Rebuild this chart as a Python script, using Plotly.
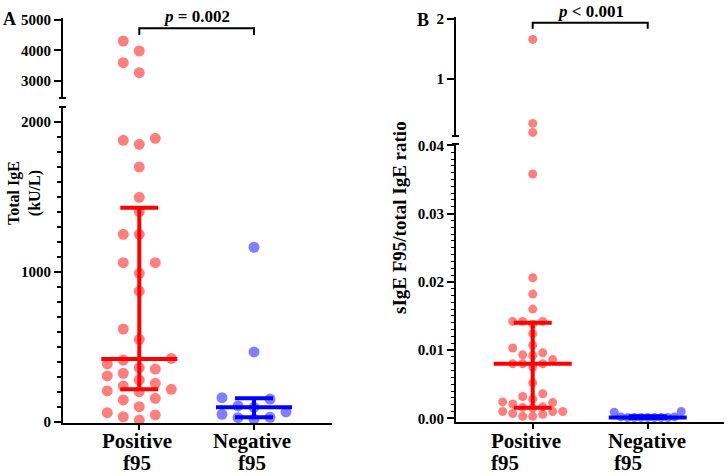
import numpy as np
import plotly.graph_objects as go

W, H = 727, 476

# ---------------- data ----------------
categories = ["Positive", "Negative"]
category_suffix = "f95"

total_ige_positive = [4307, 3977, 3591, 3261, 1889, 1876, 1849, 1698, 1496, 1400,
                      1249, 1249, 1060, 1060, 989, 870, 618, 549, 422, 411,
                      385, 360, 351, 323, 305, 278, 256, 238, 216, 205,
                      200, 156, 145, 100, 60, 45, 33, 11]
total_ige_negative = [1163, 465, 160, 151, 105, 96, 65, 49, 29, 27, 16]
total_ige_median = [418, 96]
total_ige_q1 = [216, 29]
total_ige_q3 = [1427, 156]

ratio_positive = [1.66, 0.26, 0.11, 0.0358, 0.0206, 0.0182, 0.0160, 0.0142, 0.0142,
                  0.0142, 0.0138, 0.0124, 0.0107, 0.0103, 0.0096, 0.0093, 0.0092,
                  0.0086, 0.0080, 0.0080, 0.0080, 0.0075, 0.0052, 0.0036, 0.0032,
                  0.0028, 0.0024, 0.0023, 0.0021, 0.0017, 0.0016, 0.0015, 0.0010,
                  0.0010, 0.0010, 0.0007, 0.0006, 0.0003, 0.0003]
ratio_negative = [0.0010, 0.0009, 0.0002, 0.0002, 0.0001, 0.0001, 0.0001, 0.0001,
                  0.0001, 0.0001, 0.0001]
ratio_median = [0.0080, 0.0001]
ratio_q1 = [0.00155, 0.00005]
ratio_q3 = [0.0140, 0.0003]

p_label_a = "<i>p</i> = 0.002"
p_label_b = "<i>p</i> < 0.001"

# ---------------- layout geometry (pixels) ----------------
FONT = "Liberation Serif"
A_X_PX, A_XR = (63, 332), (-0.665, 1.68)
A_LO_PX, A_LO_R = (423, 107), (-8.7, 2098)
A_UP_PX, A_UP_R = (98, 18), (2426, 5066)
B_X_PX, B_XR = (456, 724), (-0.667, 1.663)
B_LO_PX, B_LO_R = (421.5, 144), (-0.00047, 0.0402)
B_UP_PX, B_UP_R = (136, 17), (0.05, 2.033)
A_BREAK, B_BREAK = 2250, 0.045


def fx(px):
    return px / W


def fy(py):
    return 1 - py / H


def ppu(px_pair, rng):
    return abs(px_pair[0] - px_pair[1]) / (rng[1] - rng[0])


def swarm(values, y_ppu, slot_px, min_px, max_slot):
    vals = np.asarray(values, dtype=float)
    order = np.argsort(vals, kind="stable")
    cands = [0]
    for k in range(1, max_slot + 1):
        cands += [-k, k]
    placed, slots = [], [0] * len(vals)
    for i in order:
        y = vals[i] * y_ppu
        chosen, best_c, best_clear = None, 0, -1
        for c in cands:
            clear = min((np.hypot((c - s) * slot_px, y - py) for s, py in placed), default=1e9)
            if clear >= min_px:
                chosen = c
                break
            if clear > best_clear:
                best_clear, best_c = clear, c
        if chosen is None:
            chosen = best_c
        slots[i] = chosen
        placed.append((chosen, y))
    return slots


fig = go.Figure()

red_pt, blue_pt = "rgba(255,0,0,0.5)", "rgba(0,0,255,0.5)"
red_bar, blue_bar = "rgb(255,0,0)", "rgb(0,0,255)"


def add_points(values, cat, brk, xa, ya_lo, ya_up, lo_ppu, up_ppu, x_ppu,
               slot_px, min_px, max_slot, color, size):
    lo = [v for v in values if v <= brk]
    up = [v for v in values if v > brk]
    for seg, ya, yp in ((lo, ya_lo, lo_ppu), (up, ya_up, up_ppu)):
        if not seg:
            continue
        slots = swarm(seg, yp, slot_px, min_px, max_slot)
        xs = [cat + s * slot_px / x_ppu for s in slots]
        fig.add_trace(go.Scatter(x=xs, y=seg, xaxis=xa, yaxis=ya, mode="markers",
                                 marker=dict(size=size, color=color, line=dict(width=0)),
                                 cliponaxis=False, showlegend=False, hoverinfo="y"))


def add_bars(med, q1, q3, cat, xa, ya, hw, cw, color):
    xs = [cat - hw, cat + hw, None, cat - cw, cat + cw, None, cat - cw, cat + cw, None, cat, cat]
    ys = [med, med, None, q3, q3, None, q1, q1, None, q1, q3]
    fig.add_trace(go.Scatter(x=xs, y=ys, xaxis=xa, yaxis=ya, mode="lines",
                             line=dict(color=color, width=4), cliponaxis=False,
                             showlegend=False, hoverinfo="skip"))


# Panel A
a_xppu = ppu(A_X_PX, A_XR)
a_lo_ppu, a_up_ppu = ppu(A_LO_PX, A_LO_R), ppu(A_UP_PX, A_UP_R)
add_points(total_ige_positive, 0, A_BREAK, "x", "y", "y2", a_lo_ppu, a_up_ppu, a_xppu,
           16, 11, 2, red_pt, 11)
add_points(total_ige_negative, 1, A_BREAK, "x", "y", "y2", a_lo_ppu, a_up_ppu, a_xppu,
           16, 11, 2, blue_pt, 11)
for cat, col in ((0, red_bar), (1, blue_bar)):
    add_bars(total_ige_median[cat], total_ige_q1[cat], total_ige_q3[cat], cat,
             "x", "y", 38 / a_xppu, 19 / a_xppu, col)

# Panel B
b_xppu = ppu(B_X_PX, B_XR)
b_lo_ppu, b_up_ppu = ppu(B_LO_PX, B_LO_R), ppu(B_UP_PX, B_UP_R)
add_points(ratio_positive, 0, B_BREAK, "x2", "y3", "y4", b_lo_ppu, b_up_ppu, b_xppu,
           10, 8, 3, red_pt, 9)
add_points(ratio_negative, 1, B_BREAK, "x2", "y3", "y4", b_lo_ppu, b_up_ppu, b_xppu,
           6.7, 6.5, 5, blue_pt, 9)
for cat, col in ((0, red_bar), (1, blue_bar)):
    add_bars(ratio_median[cat], ratio_q1[cat], ratio_q3[cat], cat,
             "x2", "y3", 39 / b_xppu, 19 / b_xppu, col)

tick_font = dict(family=FONT, size=15, color="black", weight="bold")
base_axis = dict(showline=True, linecolor="black", linewidth=2, showgrid=False,
                 zeroline=False, ticks="outside", tickcolor="black", tickwidth=2,
                 fixedrange=True, automargin=False)

fig.update_layout(
    width=W, height=H, autosize=False,
    margin=dict(l=0, r=0, t=0, b=0, pad=0, autoexpand=False),
    paper_bgcolor="white", plot_bgcolor="white",
    showlegend=False,
    xaxis=dict(base_axis, domain=[fx(A_X_PX[0]), fx(A_X_PX[1])], range=list(A_XR),
               anchor="y", tickvals=[0, 1], ticklen=5, showticklabels=False),
    yaxis=dict(base_axis, domain=[fy(A_LO_PX[0]), fy(A_LO_PX[1])], range=list(A_LO_R),
               anchor="x", tickvals=[0, 1000, 2000], ticklen=7, tickfont=tick_font,
               minor=dict(ticks="outside", tick0=0, dtick=100, ticklen=4, tickwidth=1.5,
                          tickcolor="black", showgrid=False)),
    yaxis2=dict(base_axis, domain=[fy(A_UP_PX[0]), fy(A_UP_PX[1])], range=list(A_UP_R),
                anchor="x", tickvals=[3000, 4000, 5000], ticklen=7, tickfont=tick_font),
    xaxis2=dict(base_axis, domain=[fx(B_X_PX[0]), fx(B_X_PX[1])], range=list(B_XR),
                anchor="y3", tickvals=[0, 1], ticklen=5, showticklabels=False),
    yaxis3=dict(base_axis, domain=[fy(B_LO_PX[0]), fy(B_LO_PX[1])], range=list(B_LO_R),
                anchor="x2", tickvals=[0, 0.01, 0.02, 0.03, 0.04], tickformat=".2f",
                ticklen=7, tickfont=tick_font,
                minor=dict(ticks="outside", tick0=0, dtick=0.001, ticklen=3, tickwidth=1,
                           tickcolor="black", showgrid=False)),
    yaxis4=dict(base_axis, domain=[fy(B_UP_PX[0]), fy(B_UP_PX[1])], range=list(B_UP_R),
                anchor="x2", tickvals=[1, 2], ticklen=7, tickfont=tick_font),
)

# axis-break caps
shapes = []
for xpx, ys in ((A_X_PX[0], (A_UP_PX[0], A_LO_PX[1])), (B_X_PX[0], (B_UP_PX[0], B_LO_PX[1]))):
    for ypx in ys:
        shapes.append(dict(type="line", xref="paper", yref="paper",
                           x0=fx(xpx - 4), x1=fx(xpx + 3), y0=fy(ypx), y1=fy(ypx),
                           line=dict(color="black", width=2)))
# significance brackets
for xr, top, bot in (("x", 28.3, 35), ("x2", 22.7, 28.8)):
    shapes.append(dict(type="path", xref=xr, yref="paper",
                       path=f"M 0,{fy(bot)} L 0,{fy(top)} L 1,{fy(top)} L 1,{fy(bot)}",
                       line=dict(color="black", width=2)))
fig.update_layout(shapes=shapes)

bold = lambda s: dict(family=FONT, size=s, color="black", weight="bold")
annotations = [
    dict(text="A", x=fx(9), y=fy(19), xref="paper", yref="paper", showarrow=False,
         font=bold(18), xanchor="center", yanchor="middle"),
    dict(text="B", x=fx(423), y=fy(20), xref="paper", yref="paper", showarrow=False,
         font=bold(18), xanchor="center", yanchor="middle"),
    dict(text="Total IgE<br>(kU/L)", x=fx(24), y=fy(193), xref="paper", yref="paper",
         showarrow=False, textangle=-90, font=bold(16), xanchor="center", yanchor="middle"),
    dict(text="sIgE F95/total IgE ratio", x=fx(400), y=fy(218), xref="paper", yref="paper",
         showarrow=False, textangle=-90, font=bold(19), xanchor="center", yanchor="middle"),
    dict(text=p_label_a, x=0.5, y=fy(16.5), xref="x", yref="paper", showarrow=False,
         font=bold(17), xanchor="center", yanchor="middle"),
    dict(text=p_label_b, x=0.5, y=fy(11.5), xref="x2", yref="paper", showarrow=False,
         font=bold(17), xanchor="center", yanchor="middle"),
]

# category labels: two separate lines each
L1, L2 = fy(440.5), fy(463)
for cat in (0, 1):
    # panel A: centred under tick
    annotations.append(dict(text=categories[cat], x=cat, xshift=-2, y=L1, xref="x",
                            yref="paper", showarrow=False, font=bold(21),
                            xanchor="center", yanchor="middle"))
    annotations.append(dict(text=category_suffix, x=cat, xshift=-2, y=L2, xref="x",
                            yref="paper", showarrow=False, font=bold(21),
                            xanchor="center", yanchor="middle"))
# panel B: left aligned second line
annotations += [
    dict(text=categories[0], x=0, xshift=-6.5, y=L1, xref="x2", yref="paper",
         showarrow=False, font=bold(21), xanchor="center", yanchor="middle"),
    dict(text=category_suffix, x=0, xshift=-44, y=L2, xref="x2", yref="paper",
         showarrow=False, font=bold(21), xanchor="left", yanchor="middle"),
    dict(text=categories[1], x=1, xshift=-1, y=L1, xref="x2", yref="paper",
         showarrow=False, font=bold(21), xanchor="center", yanchor="middle"),
    dict(text=category_suffix, x=1, xshift=-36, y=L2, xref="x2", yref="paper",
         showarrow=False, font=bold(21), xanchor="left", yanchor="middle"),
]
fig.update_layout(annotations=annotations)

fig.write_html("out.html")
